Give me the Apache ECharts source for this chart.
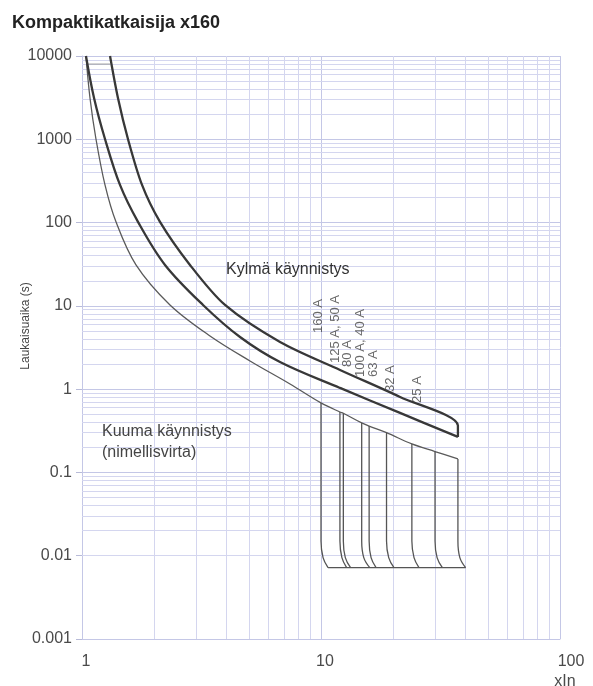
<!DOCTYPE html>
<html><head><meta charset="utf-8">
<script src="https://cdn.jsdelivr.net/npm/echarts@6/dist/echarts.min.js"></script>
<style>html,body{margin:0;padding:0;background:#fff}#c{width:593px;height:686px}</style>
</head><body><div id="c"></div>
<script>
// ---- axes ----
const xTickValues = [1, 10, 100];
const xTickLabels = ['1', '10', '100'];
const yTickValues = [0.001, 0.01, 0.1, 1, 10, 100, 1000, 10000];
const yTickLabels = ['0.001', '0.01', '0.1', '1', '10', '100', '1000', '10000'];
const xMinorGrid = [2, 3, 4, 5, 6, 7, 8, 9, 20, 30, 40, 50, 60, 70, 80, 90];
const yMinorGrid = [0.002, 0.003, 0.004, 0.005, 0.006, 0.007, 0.008, 0.009,
  0.02, 0.03, 0.04, 0.05, 0.06, 0.07, 0.08, 0.09,
  0.2, 0.3, 0.4, 0.5, 0.6, 0.7, 0.8, 0.9,
  2, 3, 4, 5, 6, 7, 8, 9,
  20, 30, 40, 50, 60, 70, 80, 90,
  200, 300, 400, 500, 600, 700, 800, 900,
  2000, 3000, 4000, 5000, 6000, 7000, 8000, 9000];

// ---- curves (x = multiple of In, y = trip time in s) ----
const hotX = [1.039, 1.080, 1.144, 1.248, 1.387, 1.682, 2.334, 3.432, 5.045, 7.418, 10.0, 12.0, 12.4, 14.8, 15.9, 18.8, 24.0, 30.0, 37.4];
const hotY = [10000, 3130, 1008, 283, 102, 31, 10.25, 4.35, 2.18, 1.154, 0.683, 0.532, 0.514, 0.393, 0.36, 0.30, 0.22, 0.178, 0.145];
const coldLoX = [1.039, 1.123, 1.248, 1.442, 1.715, 2.225, 3.209, 4.583, 6.737, 12.01, 21.41, 37.4];
const coldLoY = [10000, 3132, 1008, 283, 102, 31, 10.25, 4.23, 2.12, 1.034, 0.518, 0.267];
const coldHiX = [1.310, 1.414, 1.557, 1.783, 2.120, 2.830, 3.966, 6.737, 12.01, 21.41, 37.4, 37.4];
const coldHiY = [10000, 3132, 1008, 283, 102, 31, 10.25, 3.686, 1.70, 0.806, 0.365, 0.267];
const bandTopX = [1.045, 1.31];
const bandTopY = [8000, 8000];

// ---- instantaneous trip lines ----
const tripX = [10.0, 12.0, 12.4, 14.8, 15.9, 18.8, 24.0, 30.0, 37.4];
const tripTopY = [0.683, 0.532, 0.514, 0.393, 0.36, 0.30, 0.22, 0.178, 0.145];
const tripKneeY = 0.015;
const tripMidX = [10.2, 12.23, 12.64, 15.1, 16.2, 19.2, 24.5, 30.6, 38.1];
const tripMidY = 0.0095;
const tripFootX = [10.7, 12.8, 13.3, 16.0, 17.0, 20.2, 25.7, 32.2, 40.3];
const tripFootY = 0.0072;

// ---- rating labels ----
const ratingLabels = ['160 A', '125 A, 50 A', '80 A', '100 A, 40 A', '63 A', '32 A', '25 A'];
const ratingAnchorX = [9.71, 11.44, 12.85, 14.56, 16.5, 19.45, 25.2];
const ratingAnchorY = [4.73, 2.06, 1.85, 1.40, 1.40, 0.925, 0.683];

const FONT = '"Liberation Sans", Arial, Helvetica, sans-serif';
const zip = (a, b) => a.map((v, i) => [v, b[i]]);
const lookupIndex = (vals, v) => {
  for (let i = 0; i < vals.length; i++) {
    if (Math.abs(Math.log10(v) - Math.log10(vals[i])) < 1e-6) return i;
  }
  return -1;
};

const gridMinor = '#d4d6ef';
const gridMajor = '#c4c7e6';

const series = [];
series.push({
  type: 'line', data: [], silent: true, z: 1, animation: false,
  markLine: {
    silent: true, symbol: ['none', 'none'], animation: false, z: 1,
    label: { show: false },
    lineStyle: { color: gridMinor, width: 1, type: 'solid' },
    emphasis: { disabled: true },
    data: [...xMinorGrid.map(v => ({ xAxis: v })), ...yMinorGrid.map(v => ({ yAxis: v }))]
  }
});
series.push({ type: 'line', data: zip(bandTopX, bandTopY), showSymbol: false, silent: true, z: 8,
  lineStyle: { color: '#9a9a9a', width: 1 } });
series.push({ type: 'line', data: zip(hotX, hotY), showSymbol: false, smooth: 0.35, silent: true, z: 9,
  lineStyle: { color: '#5a5a5a', width: 1.3 } });
series.push({ type: 'line', data: zip(coldLoX, coldLoY), showSymbol: false, smooth: 0.35, silent: true, z: 10,
  lineStyle: { color: '#383838', width: 2.3 } });
series.push({ type: 'line', data: zip(coldHiX, coldHiY), showSymbol: false, smooth: 0.3, silent: true, z: 10,
  lineStyle: { color: '#383838', width: 2.3 } });
tripX.forEach((x, i) => {
  series.push({ type: 'line', showSymbol: false, smooth: 0.4, silent: true, z: 9,
    data: [[x, tripTopY[i]], [x, tripKneeY], [tripMidX[i], tripMidY], [tripFootX[i], tripFootY]],
    lineStyle: { color: '#555', width: 1.3 } });
});
series.push({ type: 'line', showSymbol: false, silent: true, z: 9,
  data: [[tripFootX[0], tripFootY], [tripFootX[tripFootX.length - 1], tripFootY]],
  lineStyle: { color: '#555', width: 1.3 } });
series.push({
  type: 'scatter', symbolSize: 0, silent: true, z: 11,
  data: ratingLabels.map((t, i) => ({ value: [ratingAnchorX[i], ratingAnchorY[i]], name: t })),
  label: { show: true, position: 'inside', formatter: p => p.name, rotate: 90,
    align: 'left', verticalAlign: 'middle', fontSize: 13, color: '#444', fontFamily: FONT }
});

const chart = echarts.init(document.getElementById('c'), null, { renderer: 'canvas' });
chart.setOption({
  animation: false,
  backgroundColor: '#fff',
  title: { text: 'Kompaktikatkaisija x160', left: 7, top: 9,
    textStyle: { fontSize: 18, fontWeight: 'bold', color: '#222', fontFamily: FONT } },
  grid: { left: 82, right: 33, top: 56, bottom: 47 },
  xAxis: {
    type: 'log', logBase: 10, min: 1, max: 100, splitNumber: 2,
    axisLine: { show: true, lineStyle: { color: gridMajor } },
    axisTick: { show: false },
    splitLine: { show: true, lineStyle: { color: gridMajor, width: 1 } },
    axisLabel: {
      formatter: v => {
        const i = lookupIndex(xTickValues, v);
        if (i < 0) return '';
        return i === xTickValues.length - 1 ? '{e|' + xTickLabels[i] + '}' : xTickLabels[i];
      },
      rich: { e: { fontSize: 16, color: '#4a4a4a', fontFamily: FONT, padding: [0, 0, 0, 14] } },
      fontSize: 16, color: '#4a4a4a', margin: 15, fontFamily: FONT, padding: [0, 0, 0, 8]
    }
  },
  yAxis: {
    type: 'log', logBase: 10, min: 0.001, max: 10000, splitNumber: 7,
    axisLine: { show: true, lineStyle: { color: gridMajor } },
    axisTick: { show: true, length: 6, lineStyle: { color: '#b8bbd8' } },
    splitLine: { show: true, lineStyle: { color: gridMajor, width: 1 } },
    axisLabel: {
      formatter: v => { const i = lookupIndex(yTickValues, v); return i < 0 ? '' : yTickLabels[i]; },
      fontSize: 16, color: '#4a4a4a', margin: 10, fontFamily: FONT
    }
  },
  graphic: [
    { type: 'text', x: 26, y: 326, rotation: Math.PI / 2,
      style: { text: 'Laukaisuaika (s)', fontSize: 12, fill: '#444', fontFamily: FONT,
        align: 'center', verticalAlign: 'middle' } },
    { type: 'text', x: 565, y: 682,
      style: { text: 'xIn', fontSize: 16, fill: '#4a4a4a', fontFamily: FONT,
        align: 'center', verticalAlign: 'middle' } },
    { type: 'text', x: 226, y: 270, z: 20,
      style: { text: 'Kylmä käynnistys', fontSize: 16, fill: '#333', fontFamily: FONT,
        align: 'left', verticalAlign: 'middle' } },
    { type: 'text', x: 102, y: 432, z: 20,
      style: { text: 'Kuuma käynnistys', fontSize: 16, fill: '#444', fontFamily: FONT,
        align: 'left', verticalAlign: 'middle' } },
    { type: 'text', x: 102, y: 453, z: 20,
      style: { text: '(nimellisvirta)', fontSize: 16, fill: '#444', fontFamily: FONT,
        align: 'left', verticalAlign: 'middle' } }
  ],
  series
});
</script></body></html>
